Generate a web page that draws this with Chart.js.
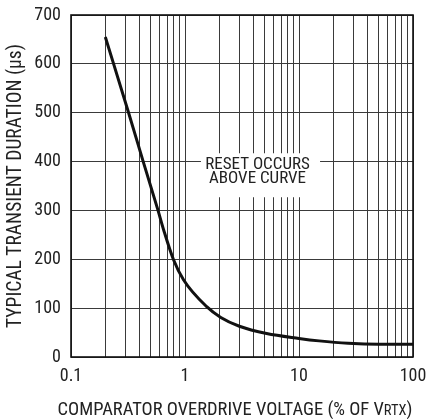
<!DOCTYPE html>
<html>
<head>
<meta charset="utf-8">
<script src="https://cdn.jsdelivr.net/npm/chart.js@4.4.1/dist/chart.umd.min.js"></script>
<style>
  html, body { margin: 0; padding: 0; background: #fff; }
  #wrap { width: 435px; height: 419px; }
</style>
</head>
<body>
<div id="wrap"><canvas id="chart"></canvas></div>
<script>
// values
const overdrive = [0.2, 0.32, 0.43, 0.58, 0.65, 0.79, 0.97, 1.55, 2.06, 3.0, 5.2, 10, 15, 27, 50, 100];
const duration = [655, 500, 400, 300, 260, 200, 158, 103, 81, 63, 48, 38, 33, 28, 26, 26];

const xDecades = [0.1, 1, 10];
const xLabels = [0.1, 1, 10, 100];
const yTicks = [0, 100, 200, 300, 400, 500, 600, 700];

const yTitle = "TYPICAL TRANSIENT DURATION (µs)";
const xTitleMain = "COMPARATOR OVERDRIVE VOLTAGE (% OF V";
const xTitleSub = "RTX";
const xTitleEnd = ")";
const noteLines = ["RESET OCCURS", "ABOVE CURVE"];

const FONT = "'Roboto Condensed', 'Open Sans', sans-serif";
const INK = "#222";
const GRID = "#3a3a3a";

// every grid line on the log axis: 1..9 in each decade plus the end
const xGrid = [];
xDecades.forEach((d) => {
  for (let k = 1; k <= 9; k++) xGrid.push(+(k * d).toPrecision(3));
});
xGrid.push(xLabels[xLabels.length - 1]);

const frameAndText = {
  id: "frameAndText",
  afterDraw(chart) {
    const ctx = chart.ctx;
    const area = chart.chartArea;
    const xs = chart.scales.x;
    const ys = chart.scales.y;

    // "reset occurs" note with white backing over the grid
    const bx1 = xs.getPixelForValue(1.38);
    const bx2 = xs.getPixelForValue(15.3);
    const by1 = ys.getPixelForValue(417);
    const by2 = ys.getPixelForValue(327);
    ctx.save();
    ctx.fillStyle = "#fff";
    ctx.fillRect(bx1, by1, bx2 - bx1, by2 - by1);
    ctx.fillStyle = INK;
    ctx.font = "17px " + FONT;
    ctx.textAlign = "center";
    ctx.textBaseline = "middle";
    const cx = (bx1 + bx2) / 2 - 3;
    ctx.fillText(noteLines[0], cx, ys.getPixelForValue(394));
    ctx.fillText(noteLines[1], cx, ys.getPixelForValue(364));

    // plot frame
    ctx.strokeStyle = "#111";
    ctx.lineWidth = 1.6;
    ctx.strokeRect(area.left, area.top, area.right - area.left, area.bottom - area.top);

    // x axis title with small RTX
    const big = "18.5px " + FONT;
    const small = "14.5px " + FONT;
    ctx.font = big;
    const w1 = ctx.measureText(xTitleMain).width;
    const w3 = ctx.measureText(xTitleEnd).width;
    ctx.font = small;
    const w2 = ctx.measureText(xTitleSub).width;
    const total = w1 + w2 + w3;
    let x = (area.left + area.right) / 2 - 7 - total / 2;
    const base = area.bottom + 58;
    ctx.textAlign = "left";
    ctx.textBaseline = "alphabetic";
    ctx.font = big;
    ctx.fillText(xTitleMain, x, base);
    x += w1;
    ctx.font = small;
    ctx.fillText(xTitleSub, x, base);
    x += w2;
    ctx.font = big;
    ctx.fillText(xTitleEnd, x, base);
    ctx.restore();
  }
};

new Chart(document.getElementById("chart"), {
  type: "line",
  data: {
    datasets: [{
      data: overdrive.map((v, i) => ({ x: v, y: duration[i] })),
      borderColor: "#111",
      borderWidth: 3,
      pointRadius: 0,
      cubicInterpolationMode: "monotone",
      fill: false
    }]
  },
  options: {
    responsive: true,
    maintainAspectRatio: false,
    animation: false,
    layout: { padding: { top: 15, right: 22, left: 0, bottom: 0 } },
    plugins: { legend: { display: false }, tooltip: { enabled: false } },
    scales: {
      x: {
        type: "logarithmic",
        min: 0.1,
        max: 100,
        afterBuildTicks: (scale) => { scale.ticks = xGrid.map((v) => ({ value: v })); },
        afterFit: (scale) => {
          scale.height = 62;
          scale.paddingLeft = 0;
          scale.paddingRight = 0;
        },
        grid: { color: GRID, lineWidth: 1, drawTicks: false },
        border: { display: false },
        ticks: {
          autoSkip: false,
          maxRotation: 0,
          padding: 9,
          color: INK,
          font: { family: FONT, size: 18 },
          callback: (v) => (xLabels.includes(v) ? String(v) : "")
        }
      },
      y: {
        min: 0,
        max: 700,
        afterBuildTicks: (scale) => { scale.ticks = yTicks.map((v) => ({ value: v })); },
        afterFit: (scale) => {
          scale.width = 71;
          scale.paddingTop = 0;
          scale.paddingBottom = 0;
        },
        grid: { color: GRID, lineWidth: 1, drawTicks: false },
        border: { display: false },
        ticks: {
          padding: 10,
          color: INK,
          font: { family: FONT, size: 18 }
        },
        title: {
          display: true,
          text: yTitle,
          color: INK,
          font: { family: FONT, size: 19.5 },
          padding: { top: 4, bottom: 0 }
        }
      }
    }
  },
  plugins: [frameAndText]
});
</script>
</body>
</html>
